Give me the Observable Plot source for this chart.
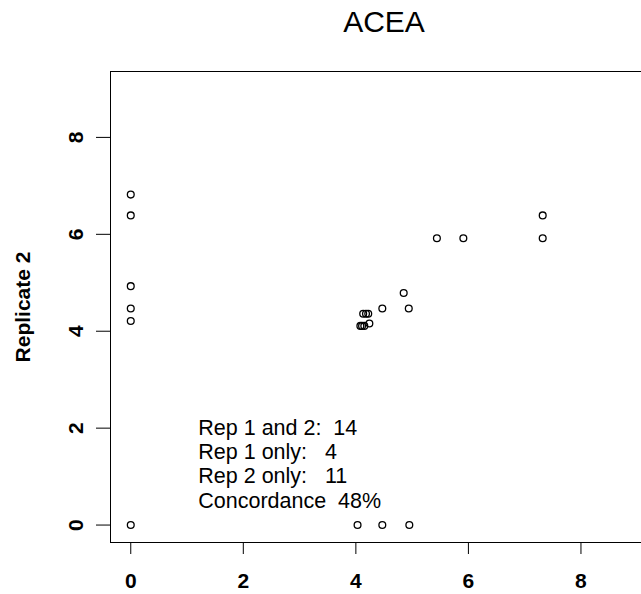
<!DOCTYPE html>
<html>
<head>
<meta charset="utf-8">
<script src="https://cdn.jsdelivr.net/npm/d3@7"></script>
<script src="https://cdn.jsdelivr.net/npm/@observablehq/plot@0.6"></script>
<style>
  html, body { margin: 0; padding: 0; background: #fff; overflow: hidden; }
  svg { font-family: "Liberation Sans", Arial, sans-serif; white-space: pre; }
</style>
</head>
<body>
<div id="chart"></div>
<script>
const title = "ACEA";
const yLabel = "Replicate 2";
const rep1 = [0, 0, 0, 0, 0, 0, 4.03, 4.47, 4.95, 7.32, 7.32, 5.44, 5.91, 4.85, 4.47, 4.94, 4.13, 4.18, 4.22, 4.08, 4.11, 4.15, 4.24];
const rep2 = [0, 6.82, 6.39, 4.93, 4.47, 4.21, 0, 0, 0, 6.39, 5.92, 5.92, 5.92, 4.79, 4.47, 4.47, 4.36, 4.36, 4.36, 4.11, 4.11, 4.11, 4.16];
const ticks = [0, 2, 4, 6, 8];
const notes = ["Rep 1 and 2:  14", "Rep 1 only:   4", "Rep 2 only:   11", "Concordance  48%"];
const noteY = [2, 1.5, 1, 0.5];
const noteX = 1.2;
const lim = [0, 9];
const pad = 0.04 * (lim[1] - lim[0]);
const domain = [lim[0] - pad, lim[1] + pad];

const points = rep1.map((x, i) => ({x, y: rep2[i]}));
const noteData = notes.map((t, i) => ({t, y: noteY[i]}));

const chart = Plot.plot({
  width: 641,
  height: 594,
  marginLeft: 110,
  marginTop: 71,
  marginBottom: 52,
  marginRight: -16,
  x: {domain, ticks},
  y: {domain, ticks},
  style: {fontFamily: "'Liberation Sans', Arial, sans-serif", color: "#000", background: "#fff"},
  marks: [
    Plot.frame({stroke: "#000", strokeWidth: 1}),
    Plot.axisX({ticks, tickSize: 12, tickPadding: 19, fontSize: 21, fontWeight: "bold", label: null, stroke: "#000"}),
    Plot.axisY({ticks, tickSize: 14, tickPadding: 14, tickRotate: -90, fontSize: 21, fontWeight: "bold", label: null, stroke: "#000"}),
    Plot.text([yLabel], {frameAnchor: "left", textAnchor: "middle", rotate: -90, dx: -87, fontSize: 21, fontWeight: "bold", fill: "#000"}),
    Plot.text([title], {frameAnchor: "top", dy: -61, fontSize: 30, fill: "#000"}),
    Plot.dot(points, {x: "x", y: "y", r: 3.4, stroke: "#000", strokeWidth: 1.3, fill: "none"}),
    Plot.text(noteData, {x: () => noteX, y: "y", text: "t", textAnchor: "start", fontSize: 21.5, fill: "#000"})
  ]
});
document.getElementById("chart").appendChild(chart);
</script>
</body>
</html>
